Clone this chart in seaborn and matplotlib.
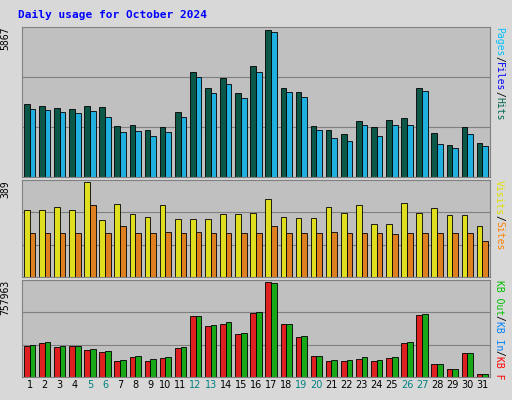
import matplotlib
matplotlib.use("Agg")
import matplotlib.pyplot as plt
import seaborn as sns
import pandas as pd

days = list(range(1, 32))
weekend = {5, 6, 12, 13, 19, 20, 26, 27}
hits = [2900, 2850, 2750, 2700, 2850, 2780, 2040, 2060, 1870, 2000, 2580, 4180, 3560, 3960, 3360, 4440, 5867, 3560, 3380, 2040, 1860, 1700, 2240, 2000, 2260, 2360, 3540, 1740, 1290, 1990, 1350]
files = [2730, 2690, 2590, 2570, 2630, 2400, 1800, 1820, 1640, 1780, 2390, 3980, 3360, 3710, 3160, 4200, 5790, 3380, 3200, 1860, 1540, 1430, 2060, 1640, 2060, 2090, 3450, 1300, 1140, 1730, 1220]
visits = [275, 275, 288, 275, 389, 233, 300, 258, 246, 296, 237, 237, 237, 258, 258, 262, 321, 245, 241, 241, 288, 262, 296, 216, 216, 304, 262, 283, 254, 254, 207]
sites = [182, 182, 178, 182, 296, 178, 207, 182, 178, 186, 178, 186, 182, 182, 178, 182, 207, 182, 178, 182, 186, 178, 182, 178, 174, 182, 178, 182, 178, 178, 149]
kbf = [247000, 272000, 239000, 247000, 214000, 198000, 124000, 157000, 124000, 148000, 231000, 486000, 404000, 420000, 346000, 511000, 757963, 420000, 321000, 165000, 124000, 124000, 140000, 124000, 148000, 272000, 494000, 107000, 66000, 189000, 25000]
kbin = [255000, 280000, 247000, 247000, 222000, 206000, 132000, 165000, 140000, 157000, 239000, 486000, 412000, 437000, 354000, 519000, 750000, 420000, 330000, 165000, 132000, 132000, 157000, 132000, 157000, 280000, 502000, 107000, 66000, 189000, 25000]

BG = "#C0C0C0"
FS = 7
fig = plt.figure(figsize=(5.12, 4.0), dpi=100, facecolor="#D8D8D8")
fig.text(0.035, 0.955, "Daily usage for October 2024", color="#0000FF",
         fontsize=8, fontweight="bold", family="DejaVu Sans Mono")

def panel(rect, a, b, names, colors, vmax, label, lbl_parts, show_x):
    ax = fig.add_axes(rect, facecolor=BG)
    df = pd.DataFrame({"day": days * 2, "v": a + b,
                       "s": [names[0]] * 31 + [names[1]] * 31})
    sns.barplot(data=df, x="day", y="v", hue="s", palette=colors, ax=ax,
                width=0.75, edgecolor="black", linewidth=0.6, legend=False)
    top = vmax * 1.02
    ax.set_ylim(0, top)
    for f in (1 / 3, 2 / 3):
        ax.axhline(top * f, color="#808080", lw=0.8, zorder=0)
    ax.set_yticks([])
    ax.set_ylabel("")
    ax.set_xlabel("")
    ax.text(-0.025, 1.0, label, rotation=90, ha="right", va="top",
            transform=ax.transAxes, fontsize=7, family="DejaVu Sans Mono")
    off = 0.0
    for txt, c in lbl_parts:
        ax.annotate(txt, xy=(1.0, 1.0), xycoords="axes fraction",
                    xytext=(3, -off), textcoords="offset points",
                    rotation=270, ha="left", va="top", color=c,
                    fontsize=FS, family="DejaVu Sans Mono")
        off += len(txt) * 0.602 * FS
    if show_x:
        ax.set_xticks(range(31))
        ax.set_xticklabels([str(d) for d in days], fontsize=7)
        for t, d in zip(ax.get_xticklabels(), days):
            t.set_color("#008080" if d in weekend else "black")
        ax.tick_params(axis="x", length=0, pad=2)
    else:
        ax.set_xticks([])
    for s in ax.spines.values():
        s.set_color("#808080")
    return ax

panel([0.043, 0.5575, 0.914, 0.375], hits, files, ["Hits", "Files"],
      ["#006450", "#00C0FF"], 5867, "5867",
      [("Pages", "#00C0FF"), ("/", "black"), ("Files", "#0000FF"), ("/", "black"), ("Hits", "#006450")], False)
panel([0.043, 0.3075, 0.914, 0.2425], visits, sites, ["Visits", "Sites"],
      ["#FFFF00", "#FF8000"], 389, "389",
      [("Visits", "#E0E000"), ("/", "black"), ("Sites", "#FF8000")], False)
panel([0.043, 0.0575, 0.914, 0.2425], kbf, kbin, ["KBF", "KBIn"],
      ["#FF0000", "#00C000"], 757963, "757963",
      [("KB Out", "#00C000"), ("/", "black"), ("KB In", "#0080FF"), ("/", "black"), ("KB F", "#FF0000")], True)

fig.savefig("out.png", dpi=100, facecolor=fig.get_facecolor())
